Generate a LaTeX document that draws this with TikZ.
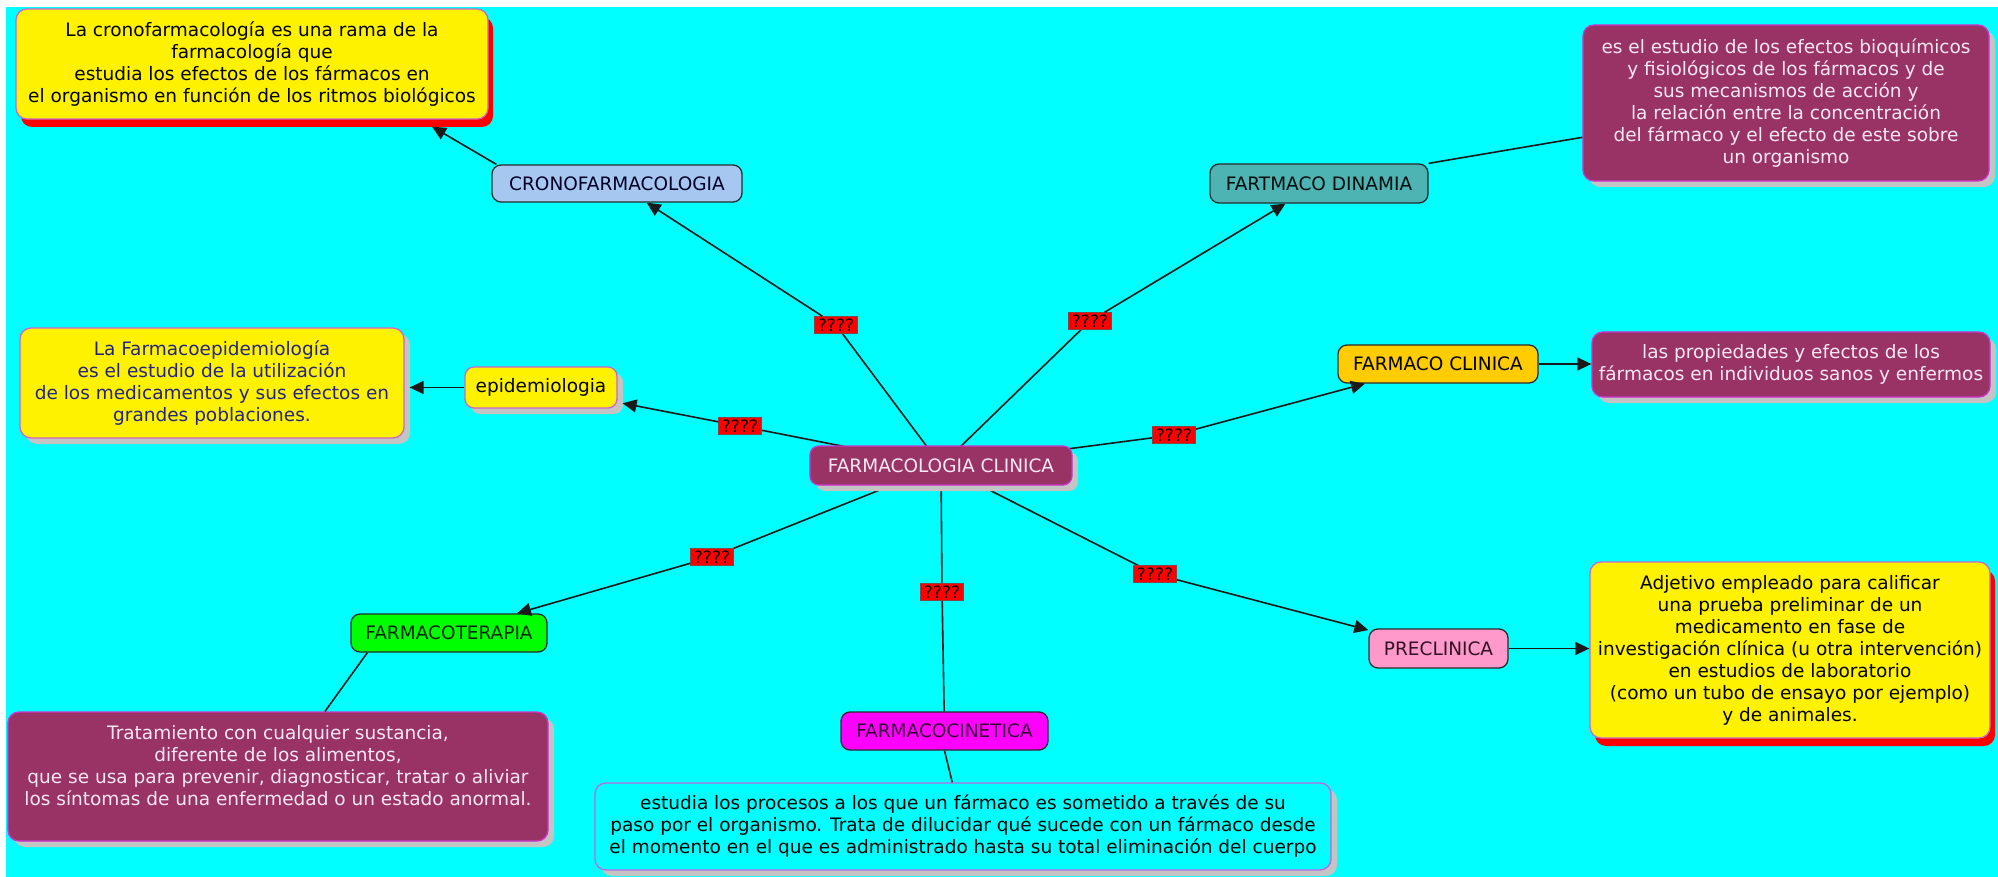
\documentclass[tikz,border=0pt]{standalone}
\usepackage{fontspec}
\setmainfont{DejaVu Sans}
\usetikzlibrary{shadows,arrows.meta,calc,backgrounds}
\definecolor{bgcyan}{HTML}{00FFFF}
\definecolor{maroonbox}{HTML}{993366}
\definecolor{yborder}{HTML}{CC66CC}
\definecolor{magborder}{HTML}{CC33CC}
\definecolor{violetborder}{HTML}{C066E0}
\definecolor{shadowgray}{HTML}{C4C4C4}
\definecolor{cronoblue}{HTML}{A6C8F0}
\definecolor{dinteal}{HTML}{4DB3B3}
\definecolor{goldbox}{HTML}{FFCC00}
\definecolor{greenbox}{HTML}{00FF00}
\definecolor{magbox}{HTML}{FF00FF}
\definecolor{pinkpre}{HTML}{FF99CC}
\definecolor{lighttext}{HTML}{F8E8F4}
\definecolor{navytext}{HTML}{222288}
\definecolor{linecol}{HTML}{1A1A1A}
\definecolor{titleborder}{HTML}{2A2A2A}
\definecolor{lblborder}{HTML}{884444}
\definecolor{darkpurple}{HTML}{330033}
\definecolor{darkwine}{HTML}{331122}
\begin{document}
\begin{tikzpicture}[x=1pt,y=-1pt,
  fs/.style={font=\fontsize{18.5}{22}\selectfont},
  titlebox/.style={draw=titleborder, line width=1.3pt, rounded corners=9pt, inner xsep=4pt, inner ysep=2pt, fs},
  desc/.style={rounded corners=11pt, line width=1.3pt, align=center, inner xsep=2pt, inner ysep=2pt, fs},
  grayshadow/.style={drop shadow={shadow xshift=6pt, shadow yshift=-6pt, fill=shadowgray, opacity=1}},
  redshadow/.style={drop shadow={shadow xshift=5pt, shadow yshift=-8pt, fill=red, opacity=1}},
  lbl/.style={fill=red, draw=lblborder, line width=0.6pt, font=\fontsize{17}{17}\selectfont, text=black, inner xsep=2pt, inner ysep=0pt, minimum height=17pt, minimum width=43pt},
  conn/.style={draw=linecol, line width=1.6pt},
  arr/.style={conn, -{Triangle[length=14pt,width=13pt]}}
]
\useasboundingbox (0,0) rectangle (1998,877);

% ---- description boxes
\node[desc, redshadow, fill=yellow, draw=yborder, text=black, minimum width=472pt, minimum height=110pt] (cronodesc) at (252,64)
 {La cronofarmacología es una rama de la\\farmacología que\\estudia los efectos de los fármacos en\\el organismo en función de los ritmos biológicos};
\node[desc, grayshadow, fill=maroonbox, draw=magborder, text=lighttext, minimum width=406pt, minimum height=156pt] (dinamiadesc) at (1786,103)
 {es el estudio de los efectos bioquímicos\\y fisiológicos de los fármacos y de\\sus mecanismos de acción y\\la relación entre la concentración\\del fármaco y el efecto de este sobre\\un organismo};
\node[desc, grayshadow, fill=yellow, draw=yborder, text=navytext, minimum width=384pt, minimum height=110pt] (epidesc) at (212,383)
 {La Farmacoepidemiología\\es el estudio de la utilización\\de los medicamentos y sus efectos en\\grandes poblaciones.};
\node[desc, grayshadow, fill=maroonbox, draw=magborder, text=lighttext, minimum width=398pt, minimum height=65pt] (fclinicadesc) at (1791,364.5)
 {las propiedades y efectos de los\\fármacos en individuos sanos y enfermos};
\node[desc, grayshadow, fill=maroonbox, draw=magborder, text=lighttext, minimum width=540pt, minimum height=129pt] (fterapiadesc) at (278,776.5)
 {Tratamiento con cualquier sustancia,\\diferente de los alimentos,\\que se usa para prevenir, diagnosticar, tratar o aliviar\\los síntomas de una enfermedad o un estado anormal.\\\mbox{}};
\node[desc, grayshadow, fill=bgcyan, draw=violetborder, text=black, minimum width=736pt, minimum height=87pt] (fcineticadesc) at (963,826.5)
 {estudia los procesos a los que un fármaco es sometido a través de su\\paso por el organismo. Trata de dilucidar qué sucede con un fármaco desde\\el momento en el que es administrado hasta su total eliminación del cuerpo};
\node[desc, redshadow, fill=yellow, draw=yborder, text=black, minimum width=400pt, minimum height=176pt] (preclinicadesc) at (1790,650)
 {Adjetivo empleado para calificar\\una prueba preliminar de un\\medicamento en fase de\\investigación clínica (u otra intervención)\\en estudios de laboratorio\\(como un tubo de ensayo por ejemplo)\\y de animales.};

% ---- concept nodes
\node[titlebox, fill=cronoblue, text=black!85!blue, minimum width=250pt, minimum height=37pt] (crono) at (617,183.5) {CRONOFARMACOLOGIA};
\node[titlebox, fill=dinteal, text=black!90!teal, minimum width=218pt, minimum height=39pt] (dinamia) at (1319,183.5) {FARTMACO DINAMIA};
\node[titlebox, grayshadow, fill=yellow, draw=yborder, text=black, minimum width=152pt, minimum height=41pt] (epidemiologia) at (541,387.5) {epidemiologia};
\node[titlebox, grayshadow, fill=maroonbox, draw=magborder, text=lighttext, minimum width=262pt, minimum height=39pt] (center) at (941,465.5) {FARMACOLOGIA CLINICA};
\node[titlebox, fill=goldbox, text=black, minimum width=200pt, minimum height=38pt] (fclinica) at (1438,364) {FARMACO CLINICA};
\node[titlebox, fill=greenbox, text=black!85!green, minimum width=196pt, minimum height=38pt] (fterapia) at (449,633) {FARMACOTERAPIA};
\node[titlebox, fill=magbox, text=darkpurple, minimum width=207pt, minimum height=38pt] (fcinetica) at (944.5,731) {FARMACOCINETICA};
\node[titlebox, fill=pinkpre, text=darkwine, minimum width=139pt, minimum height=39pt] (preclinica) at (1438.5,648.5) {PRECLINICA};

% ---- linking labels
\node[lbl] (cronolbl) at (836,325) {????};
\node[lbl] (dinamialbl) at (1090,321) {????};
\node[lbl] (epilbl) at (740,426) {????};
\node[lbl] (fclinicalbl) at (1174,435) {????};
\node[lbl] (fterapialbl) at (712,557) {????};
\node[lbl] (fcineticalbl) at (942,592) {????};
\node[lbl] (preclinicalbl) at (1155,574) {????};

% ---- background and hidden segments
\begin{scope}[on background layer]
 \fill[white] (0,0) rectangle (1998,877);
 \fill[bgcyan] (6,7) rectangle (1998,877);
 \draw[conn] (center.center) -- (cronolbl.center);
 \draw[conn] (center.center) -- (dinamialbl.center);
 \draw[conn] (center.center) -- (epilbl.center);
 \draw[conn] (center.center) -- (fclinicalbl.center);
 \draw[conn] (center.center) -- (fterapialbl.center);
 \draw[conn] (center.center) -- (fcineticalbl.center);
 \draw[conn] (center.center) -- (preclinicalbl.center);
\end{scope}

% ---- label to concept
\draw[arr] (cronolbl) -- (crono);
\draw[arr] (dinamialbl) -- (dinamia);
\draw[arr, shorten >=5pt] (epilbl) -- (epidemiologia);
\draw[arr] (fclinicalbl) -- (fclinica);
\draw[arr] (fterapialbl) -- (fterapia);
\draw[conn] (fcineticalbl) -- (fcinetica);
\draw[arr] (preclinicalbl) -- (preclinica);

% ---- concept to description
\draw[arr] ($(crono.north west)+(5,0)$) -- ($(cronodesc.south)+(180,7)$);
\draw[conn] (dinamia.north east) -- (dinamiadesc);
\draw[arr] (epidemiologia.west) -- ($(epidesc.east |- epidemiologia.west)+(5,0)$);
\draw[arr] (fclinica.east) -- (fclinica.east -| fclinicadesc.west);
\draw[conn] ($(fterapia.south west)+(17,0)$) -- (fterapiadesc);
\draw[conn] (fcinetica.south) -- (fcineticadesc);
\draw[arr] (preclinica.east) -- (preclinica.east -| preclinicadesc.west);
\end{tikzpicture}
\end{document}
